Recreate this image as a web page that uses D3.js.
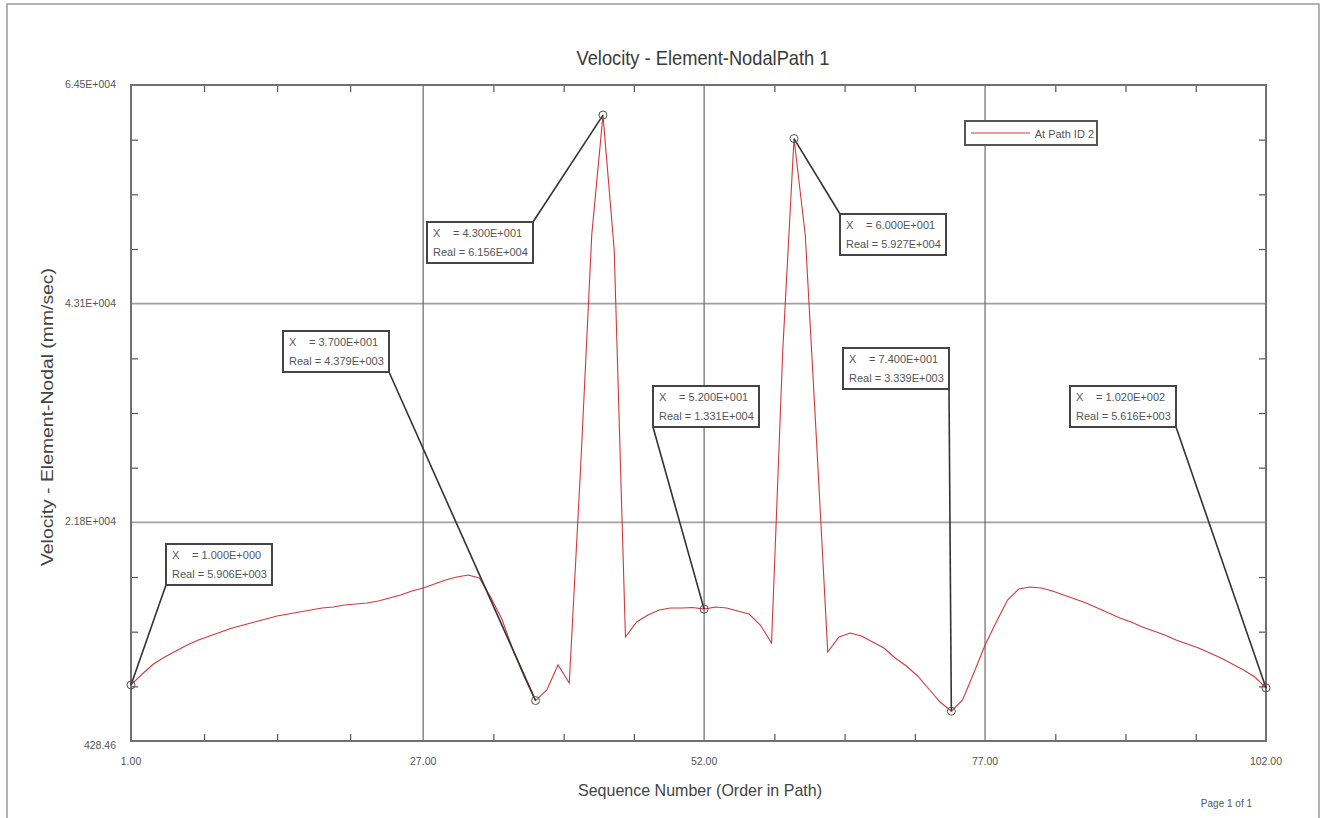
<!DOCTYPE html>
<html>
<head>
<meta charset="utf-8">
<script src="https://cdn.jsdelivr.net/npm/d3@7"></script>
<style>
  html, body { margin: 0; padding: 0; background: #fff; }
  svg { display: block; }
  text { font-family: "Liberation Sans", Arial, sans-serif; }
</style>
</head>
<body>
<svg id="chart" width="1326" height="818"></svg>
<script>
// ---------- data ----------
const chartTitle = "Velocity - Element-NodalPath 1";
const xAxisTitle = "Sequence Number (Order in Path)";
const yAxisTitle = "Velocity - Element-Nodal (mm/sec)";
const seriesName = "At Path ID 2";

// velocity at sequence numbers 1..102 (mm/sec)
const velocity = [
  5906, 6972, 7949, 8632, 9218, 9805, 10293, 10684, 11074, 11465,
  11758, 12051, 12344, 12637, 12832, 13028, 13223, 13418, 13516, 13711,
  13809, 13907, 14102, 14395, 14688, 15079, 15372, 15763, 16153, 16446,
  16642, 16349, 14493, 12344, 9316, 6679, 4379, 5409, 7851, 6093,
  26897, 49849, 61560, 48384, 10586, 12051, 12734, 13223, 13418, 13418,
  13467, 13310, 13516, 13418, 13125, 12832, 11758, 10000, 38617, 59270,
  49849, 29827, 9121, 10586, 10976, 10684, 10097, 9511, 8535, 7753,
  6777, 5507, 4237, 3339, 4433, 7070, 9805, 12051, 14200, 15274,
  15469, 15372, 15079, 14688, 14297, 13907, 13418, 12930, 12442, 12051,
  11562, 11172, 10781, 10293, 9902, 9511, 9023, 8535, 7949, 7363,
  6679, 5616
];

const xDomain = [1, 102];
const yDomain = [428.46, 64500];
const xTickValues = [1, 27, 52, 77, 102];
const xTickLabels = ["1.00", "27.00", "52.00", "77.00", "102.00"];
const yTickValues = [428.46, 21785.64, 43142.82, 64500];
const yTickLabels = ["428.46", "2.18E+004", "4.31E+004", "6.45E+004"];

// annotated points
const annotX = [1, 37, 43, 52, 60, 74, 102];
const annotXLabel = ["1.000E+000", "3.700E+001", "4.300E+001", "5.200E+001", "6.000E+001", "7.400E+001", "1.020E+002"];
const annotRealLabel = ["5.906E+003", "4.379E+003", "6.156E+004", "1.331E+004", "5.927E+004", "3.339E+003", "5.616E+003"];

// ---------- layout ----------
const plot = { left: 131, right: 1266, top: 85, bottom: 741 };
// annotation box placement: top-left corner, and the corner that the leader leaves from
const boxLayout = [
  { bx: 166, by: 544, corner: "bl" },
  { bx: 283, by: 331, corner: "br" },
  { bx: 427, by: 222, corner: "tr" },
  { bx: 653, by: 386, corner: "bl" },
  { bx: 840, by: 214, corner: "tl" },
  { bx: 843, by: 348, corner: "br" },
  { bx: 1070, by: 386, corner: "br" }
];
const boxW = 106, boxH = 41;

const svg = d3.select("#chart");

const x = d3.scaleLinear().domain(xDomain).range([plot.left, plot.right]);
const y = d3.scaleLinear().domain(yDomain).range([plot.bottom, plot.top]);

// page frame
svg.append("path")
  .attr("d", `M7,830 L7,4 L1319,4 L1319,830`)
  .attr("fill", "none").attr("stroke", "#9a9a9a").attr("stroke-width", 1.5);

// title
svg.append("text")
  .attr("x", 703).attr("y", 65)
  .attr("text-anchor", "middle")
  .attr("font-size", 21).attr("fill", "#3a3a3a")
  .attr("textLength", 253).attr("lengthAdjust", "spacingAndGlyphs")
  .text(chartTitle);

// grid lines
const g = svg.append("g");
g.selectAll(".hgrid")
  .data(yTickValues.slice(1, -1))
  .join("line")
  .attr("x1", plot.left).attr("x2", plot.right)
  .attr("y1", d => y(d)).attr("y2", d => y(d))
  .attr("stroke", "#a0a0a0").attr("stroke-width", 1.6);
g.selectAll(".vgrid")
  .data(xTickValues.slice(1, -1))
  .join("line")
  .attr("x1", d => x(d)).attr("x2", d => x(d))
  .attr("y1", plot.top).attr("y2", plot.bottom)
  .attr("stroke", "#6a6a6a").attr("stroke-width", 1.2);

// minor ticks on all four sides (inward), quarter divisions of the major ticks
const xMinor = [];
for (let i = 0; i < xTickValues.length - 1; i++) {
  const a = xTickValues[i], b = xTickValues[i + 1];
  for (let k = 1; k < 4; k++) xMinor.push(a + (b - a) * k / 4);
}
const yMinor = [];
for (let i = 0; i < yTickValues.length - 1; i++) {
  const a = yTickValues[i], b = yTickValues[i + 1];
  for (let k = 1; k < 4; k++) yMinor.push(a + (b - a) * k / 4);
}
const tl = 7;
const axTop = d3.axisBottom(x).tickValues(xMinor).tickSize(tl).tickFormat("");
const axBot = d3.axisTop(x).tickValues(xMinor).tickSize(tl).tickFormat("");
const axLeft = d3.axisRight(y).tickValues(yMinor).tickSize(tl).tickFormat("");
const axRight = d3.axisLeft(y).tickValues(yMinor).tickSize(tl).tickFormat("");
[[axTop, `translate(0,${plot.top})`], [axBot, `translate(0,${plot.bottom})`],
 [axLeft, `translate(${plot.left},0)`], [axRight, `translate(${plot.right},0)`]].forEach(([ax, tr]) => {
  const a = svg.append("g").attr("transform", tr).call(ax);
  a.select(".domain").remove();
  a.selectAll("line").attr("stroke", "#555").attr("stroke-width", 1.2);
});

// plot frame
svg.append("rect")
  .attr("x", plot.left).attr("y", plot.top)
  .attr("width", plot.right - plot.left).attr("height", plot.bottom - plot.top)
  .attr("fill", "none").attr("stroke", "#707070").attr("stroke-width", 2);

// axis tick labels
svg.selectAll(".ylab")
  .data(yTickValues)
  .join("text")
  .attr("x", 116).attr("y", (d, i) => y(d) + (i === 0 ? 8 : 3))
  .attr("text-anchor", "end")
  .attr("font-size", 10.5).attr("fill", "#555")
  .text((d, i) => yTickLabels[i]);
svg.selectAll(".xlab")
  .data(xTickValues)
  .join("text")
  .attr("x", d => x(d)).attr("y", 765)
  .attr("text-anchor", "middle")
  .attr("font-size", 10.5).attr("fill", "#555")
  .text((d, i) => xTickLabels[i]);

// axis titles
svg.append("text")
  .attr("x", 700).attr("y", 796)
  .attr("text-anchor", "middle")
  .attr("font-size", 17).attr("fill", "#444")
  .attr("textLength", 244).attr("lengthAdjust", "spacingAndGlyphs")
  .text(xAxisTitle);
svg.append("text")
  .attr("transform", `translate(53,417) rotate(-90)`)
  .attr("text-anchor", "middle")
  .attr("font-size", 17).attr("fill", "#444")
  .attr("textLength", 298).attr("lengthAdjust", "spacingAndGlyphs")
  .text(yAxisTitle);

// page footer
svg.append("text")
  .attr("x", 1252).attr("y", 807)
  .attr("text-anchor", "end")
  .attr("font-size", 10).attr("fill", "#555")
  .text("Page 1 of 1");

// data line
const pts = velocity.map((v, i) => ({ x: i + 1, v }));
const line = d3.line().x(d => x(d.x)).y(d => y(d.v));
svg.append("path")
  .datum(pts)
  .attr("d", line)
  .attr("fill", "none")
  .attr("stroke", "#d0393b").attr("stroke-width", 1.1);

// legend
svg.append("rect")
  .attr("x", 965).attr("y", 121).attr("width", 132).attr("height", 24)
  .attr("fill", "#fff").attr("stroke", "#555").attr("stroke-width", 2);
svg.append("line")
  .attr("x1", 971).attr("x2", 1030).attr("y1", 133).attr("y2", 133)
  .attr("stroke", "#d0393b").attr("stroke-width", 1.1);
svg.append("text")
  .attr("x", 1094).attr("y", 137.5)
  .attr("text-anchor", "end")
  .attr("font-size", 11).attr("fill", "#555")
  .text(seriesName);

// annotations
annotX.forEach((ax, i) => {
  const v = velocity[ax - 1];
  const px = x(ax), py = y(v);
  const L = boxLayout[i];
  const cx = L.corner.includes("r") ? L.bx + boxW : L.bx;
  const cy = L.corner.includes("b") ? L.by + boxH : L.by;
  svg.append("line")
    .attr("x1", cx).attr("y1", cy).attr("x2", px).attr("y2", py)
    .attr("stroke", "#333").attr("stroke-width", 1.6);
  svg.append("circle")
    .attr("cx", px).attr("cy", py).attr("r", 4)
    .attr("fill", "none").attr("stroke", "#555").attr("stroke-width", 1);
  svg.append("rect")
    .attr("x", L.bx).attr("y", L.by).attr("width", boxW).attr("height", boxH)
    .attr("fill", "#fff").attr("stroke", "#444").attr("stroke-width", 2);
  const tx = L.bx + 6;
  svg.append("text").attr("x", tx).attr("y", L.by + 15)
    .attr("font-size", 11).attr("fill", "#555").text("X");
  svg.append("text").attr("x", tx + 20).attr("y", L.by + 15)
    .attr("font-size", 11).attr("fill", "#555").text("= " + annotXLabel[i]);
  svg.append("text").attr("x", tx).attr("y", L.by + 34)
    .attr("font-size", 11).attr("fill", "#555").text("Real = " + annotRealLabel[i]);
});
</script>
</body>
</html>
